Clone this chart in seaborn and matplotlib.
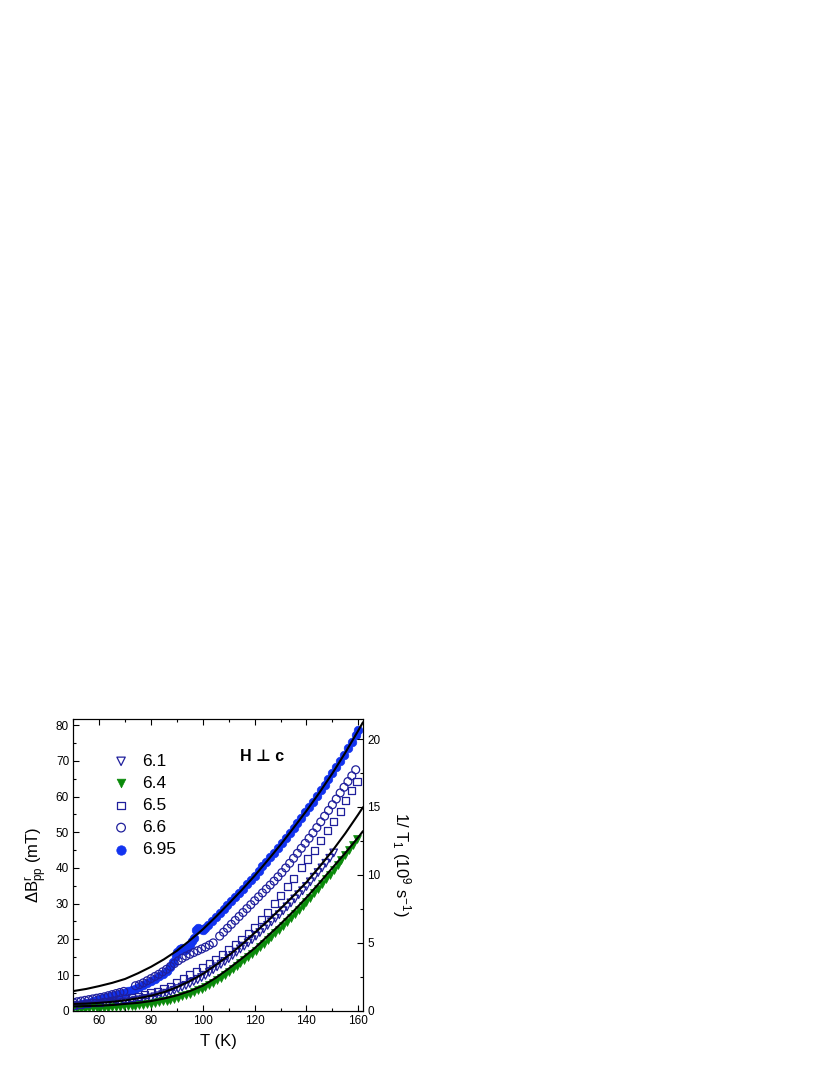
import pandas as pd
import matplotlib
matplotlib.use("Agg")
import matplotlib.pyplot as plt
from matplotlib.ticker import MultipleLocator
import seaborn as sns

sns.set_style("ticks")
plt.rcParams["font.family"] = ["Liberation Sans", "DejaVu Sans"]
plt.rcParams["mathtext.default"] = "regular"
plt.rcParams["xtick.direction"] = "in"
plt.rcParams["ytick.direction"] = "in"
for key in ["text.color", "axes.labelcolor", "xtick.color", "ytick.color", "axes.edgecolor"]:
    plt.rcParams[key] = "black"

# temperature (K) and linewidth (mT) for each doping
t_61 = [50, 51.5, 53, 54.5, 56, 57.5, 59, 60.5, 62, 63.5, 65, 66.5, 68, 69.5, 71, 72.5, 74, 75.5, 77, 78.5,
        80, 81.5, 83, 84.5, 86, 87.5, 89, 90.5, 92, 93.5, 95, 96.5, 98, 99.5, 101, 102.5, 104, 105.5, 107, 108.5,
        110, 111.5, 113, 114.5, 116, 117.5, 119, 120.5, 122, 123.5, 125, 126.5, 128, 129.5, 131, 132.5, 134, 135.5,
        137, 138.5, 140, 141.5, 143, 144.5, 146, 147.5, 149, 150.5]
b_61 = [1.3, 1.3, 1.35, 1.4, 1.45, 1.5, 1.55, 1.65, 1.75, 1.85, 1.95, 2.05, 2.2, 2.35, 2.5, 2.65, 2.85, 3.05, 3.25, 3.45,
        3.6, 3.9, 4.2, 4.5, 4.9, 5.3, 5.7, 6.2, 6.6, 7.1, 7.6, 8.2, 8.7, 9.3, 9.9, 10.7, 11.5, 12.3, 13.0, 13.8,
        14.6, 15.5, 16.4, 17.3, 18.1, 19.0, 19.9, 20.9, 21.9, 22.9, 23.9, 24.9, 25.9, 26.9, 28.0, 29.1, 30.2, 31.3,
        32.5, 33.6, 34.8, 36.1, 37.4, 38.7, 40.0, 41.3, 42.7, 44.2]

t_64 = t_61 + [152, 153.5, 155, 156.5, 158, 159.5]
b_64 = [0.5, 0.5, 0.55, 0.6, 0.65, 0.7, 0.75, 0.8, 0.85, 0.9, 0.95, 1.05, 1.1, 1.2, 1.25, 1.35, 1.45, 1.55, 1.7, 1.85,
        2.0, 2.2, 2.4, 2.6, 2.85, 3.1, 3.35, 3.6, 4.0, 4.4, 4.8, 5.2, 5.7, 6.1, 6.6, 7.2, 7.8, 8.5, 9.2, 10.0,
        10.8, 11.6, 12.4, 13.3, 14.2, 15.1, 16.0, 16.8, 17.8, 18.7, 19.7, 20.7, 21.7, 22.7, 23.7, 24.8, 25.9, 27.0,
        28.2, 29.3, 30.5, 31.7, 33.0, 34.2, 35.5, 36.8, 38.1, 39.4, 40.8, 42.2, 43.6, 45.0, 46.5, 48.0]

t_65 = [50, 52.5, 55, 57.5, 60, 62.5, 65, 67.5, 70, 72.5, 75, 77.5, 80, 82.5, 85, 87.5, 90, 92.5, 95, 97.5,
        100, 102.5, 105, 107.5, 110, 112.5, 115, 117.5, 120, 122.5, 125, 127.5, 130, 132.5, 135, 138, 140.5,
        143, 145.5, 148, 150.5, 153, 155.2, 157.5, 159.5]
b_65 = [1.6, 1.8, 2.0, 2.2, 2.4, 2.6, 2.9, 3.2, 3.5, 3.8, 4.1, 4.5, 5.0, 5.5, 6.1, 6.9, 7.9, 9.0, 10.2, 11.1,
        12.1, 13.1, 14.2, 15.6, 17.0, 18.5, 20.0, 21.6, 23.4, 25.5, 27.6, 30.0, 32.3, 34.7, 37.0, 40.0, 42.5,
        45.0, 47.6, 50.6, 53.0, 55.7, 58.8, 61.6, 64.3]

t_66 = [50, 51.5, 53, 54.5, 56, 57.5, 59, 60.5, 62, 63.5, 65, 66.5, 68, 69.5,
        74, 75.5, 77, 78.5, 80, 81.5, 83, 84.5, 86, 87.5, 89, 90.5, 92, 93.5, 95, 96.5, 98, 99.5, 101, 102.5, 104,
        106.5, 108, 109.5, 111, 112.5, 114, 115.5, 117, 118.5, 120, 121.5, 123, 124.5, 126, 127.5, 129, 130.5,
        132, 133.5, 135, 136.5, 138, 139.5, 141, 142.5, 144, 145.5, 147, 148.5, 150, 151.5, 153, 154.5, 156,
        157.5, 159]
b_66 = [2.3, 2.5, 2.7, 2.9, 3.1, 3.3, 3.5, 3.7, 3.9, 4.2, 4.5, 4.8, 5.1, 5.4,
        7.0, 7.3, 7.8, 8.4, 9.0, 9.6, 10.2, 10.9, 11.6, 12.4, 13.2, 14.0, 14.7, 15.3, 15.8, 16.3, 16.8, 17.3, 17.8,
        18.4, 19.0,
        20.9, 22.0, 23.1, 24.2, 25.3, 26.4, 27.5, 28.6, 29.7, 30.8, 31.9, 33.0, 34.1, 35.2, 36.3, 37.5, 38.7,
        40.0, 41.3, 42.7, 44.1, 45.5, 46.9, 48.3, 49.8, 51.3, 52.9, 54.5, 56.1, 57.7, 59.3, 61.0, 62.6, 64.2,
        65.8, 67.5]

t_695 = [50, 51.5, 53, 54.5, 56, 57.5, 59, 60.5, 62, 63.5, 65, 66.5, 68, 69.5, 71, 72.5, 74, 75.5, 77, 78.5,
         80, 81.5, 83, 84.5, 86, 87.5,
         88.5, 89.5, 90.2, 91, 92, 93, 94, 95, 95.8, 96.5, 97.2, 98, 99, 100, 101, 102,
         103.5, 105, 106.5, 108, 109.5, 111, 112.5, 114, 115.5, 117, 118.5, 120, 121.5, 123, 124.5, 126, 127.5,
         129, 130.5, 132, 133.5, 135, 136.5, 138, 139.5, 141, 142.5, 144, 145.5, 147, 148.5, 150, 151.5, 153,
         154.5, 156, 157.5, 159, 160]
b_695 = [1.5, 1.7, 1.9, 2.1, 2.3, 2.6, 2.9, 3.2, 3.5, 3.8, 4.1, 4.4, 4.7, 5.0, 5.4, 5.8, 6.2, 6.7, 7.2, 7.7,
         8.3, 8.9, 9.6, 10.3, 11.2, 12.3,
         13.6, 15.2, 16.4, 17.2, 17.5, 17.0, 17.6, 18.3, 19.6, 20.5, 22.6, 23.2, 23.0, 22.6, 23.3, 24.0,
         25.2, 26.3, 27.4, 28.5, 29.6, 30.8, 31.9, 33.0, 34.2, 35.4, 36.6, 37.8, 39.1, 40.4, 41.7, 43.0, 44.3,
         45.6, 46.9, 48.4, 49.8, 51.2, 52.6, 54.1, 55.6, 57.1, 58.6, 60.1, 61.7, 63.3, 64.9, 66.5, 68.2, 69.9,
         71.7, 73.5, 75.3, 77.2, 78.6]

# the three fitted curves (black lines)
t_fit = [50, 55, 60, 65, 70, 75, 80, 85, 90, 95, 100, 105, 110, 115, 120, 125, 130, 135, 140, 145, 150, 155,
         160, 161.8]
fit_top = [5.5, 6.1, 6.9, 7.8, 8.9, 10.5, 12.3, 14.4, 16.8, 19.7, 22.8, 26.3, 30.0, 33.8, 37.8, 42.1, 46.5,
           51.2, 56.0, 61.1, 66.5, 72.3, 78.5, 80.8]
fit_mid = [1.9, 2.0, 2.2, 2.5, 2.9, 3.5, 4.2, 5.2, 6.6, 8.3, 10.3, 12.8, 15.5, 18.5, 21.8, 25.1, 28.6, 32.2,
           36.0, 40.3, 44.8, 49.7, 55.0, 57.0]
fit_low = [1.2, 1.3, 1.4, 1.6, 1.9, 2.2, 2.7, 3.4, 4.3, 5.5, 7.0, 9.2, 11.8, 14.6, 17.5, 20.9, 24.3, 27.9,
           31.7, 35.8, 40.0, 44.2, 48.6, 50.3]

navy = "#1f1f9c"
blue = "#1233f0"
green = "#0a8a0a"

fig = plt.figure(figsize=(8.3, 10.75), dpi=100)
ax = fig.add_axes([0.0883, 0.0598, 0.349, 0.2713])

df61 = pd.DataFrame({"T": t_61, "B": b_61})
df64 = pd.DataFrame({"T": t_64, "B": b_64})
df65 = pd.DataFrame({"T": t_65, "B": b_65})
df66 = pd.DataFrame({"T": t_66, "B": b_66})
df695 = pd.DataFrame({"T": t_695, "B": b_695})

sns.scatterplot(data=df61, x="T", y="B", marker="v", s=30, facecolor="none",
                edgecolor=navy, linewidth=0.9, label="6.1", ax=ax, zorder=3)
sns.scatterplot(data=df64, x="T", y="B", marker="v", s=32, color=green,
                edgecolor=green, linewidth=0.5, label="6.4", ax=ax, zorder=3)
sns.scatterplot(data=df65, x="T", y="B", marker="s", s=26, facecolor="none",
                edgecolor=navy, linewidth=0.9, label="6.5", ax=ax, zorder=3)
sns.scatterplot(data=df66, x="T", y="B", marker="o", s=32, facecolor="none",
                edgecolor=navy, linewidth=0.9, label="6.6", ax=ax, zorder=3)
sns.scatterplot(data=df695, x="T", y="B", marker="o", s=38, color=blue,
                edgecolor=blue, linewidth=0.5, label="6.95", ax=ax, zorder=2)

# fitted curves on top of the points
for fit in [fit_top, fit_mid, fit_low]:
    sns.lineplot(x=t_fit, y=fit, color="black", linewidth=1.5, ax=ax, zorder=5)

ax.set_xlim(50, 161.8)
ax.set_ylim(0, 81.7)
ax.xaxis.set_major_locator(MultipleLocator(20))
ax.xaxis.set_minor_locator(MultipleLocator(10))
ax.yaxis.set_major_locator(MultipleLocator(10))
ax.yaxis.set_minor_locator(MultipleLocator(5))
ax.tick_params(which="both", top=True, right=False, labelsize=8.5, width=0.8, pad=3)
ax.tick_params(which="major", length=4)
ax.tick_params(which="minor", length=2.5)
for sp in ax.spines.values():
    sp.set_linewidth(0.8)

ax.set_xlabel("T (K)", fontsize=12, labelpad=5)
ax.set_ylabel("ΔB$^r_{pp}$ (mT)", fontsize=12, labelpad=5)

# right axis: relaxation rate
ax2 = ax.twinx()
ax2.set_ylim(0, 21.47)
ax2.yaxis.set_major_locator(MultipleLocator(5))
ax2.yaxis.set_minor_locator(MultipleLocator(2.5))
ax2.tick_params(which="both", labelsize=8.5, width=0.8, pad=3)
ax2.tick_params(which="major", length=4)
ax2.tick_params(which="minor", length=2.5)
ax2.set_ylabel("1/ T$_1$ (10$^9$ s$^{-1}$)", fontsize=12, rotation=270, va="bottom", labelpad=7)
for sp in ax2.spines.values():
    sp.set_linewidth(0.8)

ax.text(0.65, 0.871, "H ⊥ c", transform=ax.transAxes, fontsize=11.5, fontweight="bold",
        ha="center", va="center")

leg = ax.legend(loc="upper left", bbox_to_anchor=(0.105, 0.905), frameon=False, fontsize=12.5,
                handletextpad=0.6, labelspacing=0.4, borderaxespad=0, markerscale=1.1,
                handlelength=1.2)

fig.savefig("out.png", dpi=100)
